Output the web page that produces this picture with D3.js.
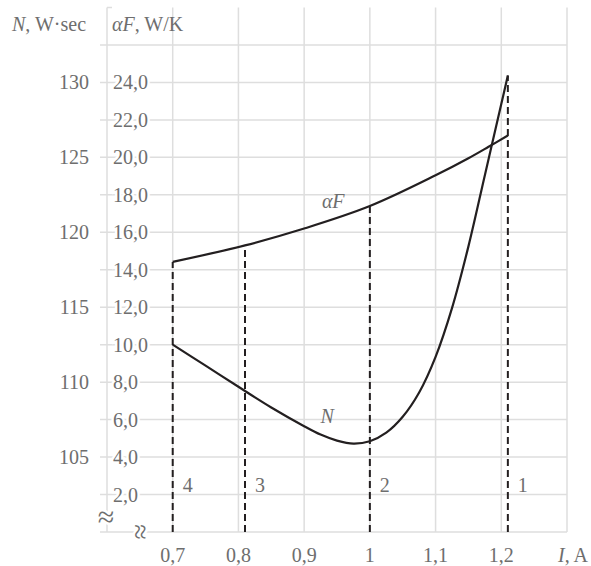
<!DOCTYPE html>
<html>
<head>
<meta charset="utf-8">
<script src="https://cdn.jsdelivr.net/npm/d3@7"></script>
<style>
  body { margin: 0; background: #fff; }
  text { font-family: "Liberation Serif", "Times New Roman", serif; font-size: 20px; fill: #6e6e6e; }
</style>
</head>
<body>
<svg id="chart" width="591" height="566"></svg>
<script>
// current, A
const currentN = [0.7, 0.75, 0.8, 0.85, 0.9, 0.925, 0.95, 0.975, 1.0, 1.025, 1.05, 1.075, 1.1, 1.125, 1.15, 1.175, 1.2, 1.21];
// N, W·sec
const valuesN = [112.5, 111.1, 109.69, 108.31, 107.06, 106.5, 106.1, 105.9, 106.06, 106.63, 107.69, 109.31, 111.69, 114.94, 119.06, 123.81, 128.56, 130.46];

const currentAF = [0.7, 0.81, 0.9, 1.0, 1.1, 1.15, 1.18, 1.21];
// alpha*F, W/K
const valuesAF = [14.42, 15.3, 16.2, 17.4, 19.04, 19.95, 20.55, 21.17];

const modeCurrents = [0.7, 0.81, 1.0, 1.21];
const modeLabels = ["4", "3", "2", "1"];

const xTicks = [0.7, 0.8, 0.9, 1.0, 1.1, 1.2];
const afTicks = [2, 4, 6, 8, 10, 12, 14, 16, 18, 20, 22, 24];
const nTicks = [105, 110, 115, 120, 125, 130];

const x = d3.scaleLinear().domain([0.6, 1.3]).range([107, 567]);
const y = d3.scaleLinear().domain([0, 28]).range([532, 7.5]);
const yN = d3.scaleLinear().domain([100, 135]).range([532, 7.5]);

const fmtComma = (f) => (v) => f(v).replace(".", ",");
const fmtX = fmtComma(d3.format(".1~f"));
const fmtAF = fmtComma(d3.format(".1f"));

const svg = d3.select("#chart");
const gridColor = "#dedede";
const ink = "#231f20";

// grid
svg.append("g")
  .selectAll("line")
  .data(d3.range(0, 27, 2))
  .join("line")
  .attr("x1", 100)
  .attr("x2", x(1.3))
  .attr("y1", (d) => y(d))
  .attr("y2", (d) => y(d))
  .attr("stroke", gridColor)
  .attr("stroke-width", 1.5);

svg.append("g")
  .selectAll("line")
  .data(d3.range(0.6, 1.31, 0.1))
  .join("line")
  .attr("x1", (d) => x(d))
  .attr("x2", (d) => x(d))
  .attr("y1", y(28))
  .attr("y2", y(0))
  .attr("stroke", gridColor)
  .attr("stroke-width", 1.5);

svg.append("line")
  .attr("x1", x(0.6)).attr("x2", x(0.6) + 5)
  .attr("y1", y(28)).attr("y2", y(28))
  .attr("stroke", gridColor).attr("stroke-width", 1.5);

// curves
const line = (xs, ys, yScale) =>
  d3.line().curve(d3.curveCatmullRom.alpha(0.5))
    .x((d, i) => x(xs[i]))
    .y((d) => yScale(d))(ys);

svg.append("path")
  .attr("d", line(currentAF, valuesAF, y))
  .attr("fill", "none").attr("stroke", ink).attr("stroke-width", 2.2);

svg.append("path")
  .attr("d", line(currentN, valuesN, yN))
  .attr("fill", "none").attr("stroke", ink).attr("stroke-width", 2.2);

// dashed mode lines reach up to the higher curve
const topOf = (c) => {
  const tops = [];
  const ia = currentAF.indexOf(c);
  const iN = currentN.indexOf(c);
  if (ia >= 0) tops.push(y(valuesAF[ia]));
  if (iN >= 0) tops.push(yN(valuesN[iN]));
  return d3.min(tops);
};

svg.append("g")
  .selectAll("line")
  .data(modeCurrents)
  .join("line")
  .attr("x1", (d) => x(d))
  .attr("x2", (d) => x(d))
  .attr("y1", y(0))
  .attr("y2", (d) => topOf(d))
  .attr("stroke", ink)
  .attr("stroke-width", 2)
  .attr("stroke-dasharray", "7,4");

svg.append("g")
  .selectAll("text")
  .data(modeCurrents)
  .join("text")
  .attr("x", (d) => x(d) + 10)
  .attr("y", y(2) - 3)
  .text((d, i) => modeLabels[i]);

// axis labels with white knockout
const knock = (sel) => sel.attr("stroke", "#fff").attr("stroke-width", 5).attr("paint-order", "stroke");

svg.append("g")
  .selectAll("text")
  .data(afTicks)
  .join("text")
  .attr("x", 113)
  .attr("y", (d) => y(d) + 7)
  .text(fmtAF)
  .call(knock);

svg.append("g")
  .selectAll("text")
  .data(nTicks)
  .join("text")
  .attr("x", 89)
  .attr("y", (d) => yN(d) + 7)
  .attr("text-anchor", "end")
  .text((d) => d);

svg.append("g")
  .selectAll("text")
  .data(xTicks)
  .join("text")
  .attr("x", (d) => x(d))
  .attr("y", 562)
  .attr("text-anchor", "middle")
  .text(fmtX);

// titles
const nTitle = svg.append("text").attr("x", 12).attr("y", 31);
nTitle.append("tspan").attr("font-style", "italic").text("N");
nTitle.append("tspan").text(", W·sec");

const afTitle = svg.append("text").attr("x", 112).attr("y", 31);
afTitle.append("tspan").attr("font-style", "italic").text("αF");
afTitle.append("tspan").text(", W/K");

const iTitle = svg.append("text").attr("x", 558).attr("y", 562);
iTitle.append("tspan").attr("font-style", "italic").text("I");
iTitle.append("tspan").text(", A");

// curve labels
svg.append("text")
  .attr("x", x(0.927)).attr("y", y(17.3))
  .attr("font-style", "italic").text("αF");
svg.append("text")
  .attr("x", x(0.925)).attr("y", yN(107.27))
  .attr("font-style", "italic").text("N");

// axis break marks
svg.append("text")
  .attr("x", 106).attr("y", 527)
  .attr("text-anchor", "middle")
  .style("font-size", "30px")
  .text("≈")
  .call(knock);

svg.append("text")
  .attr("transform", `translate(139,${y(0)}) rotate(90)`)
  .attr("text-anchor", "middle")
  .attr("dy", 8)
  .style("font-size", "28px")
  .text("≈")
  .call(knock);
</script>
</body>
</html>
